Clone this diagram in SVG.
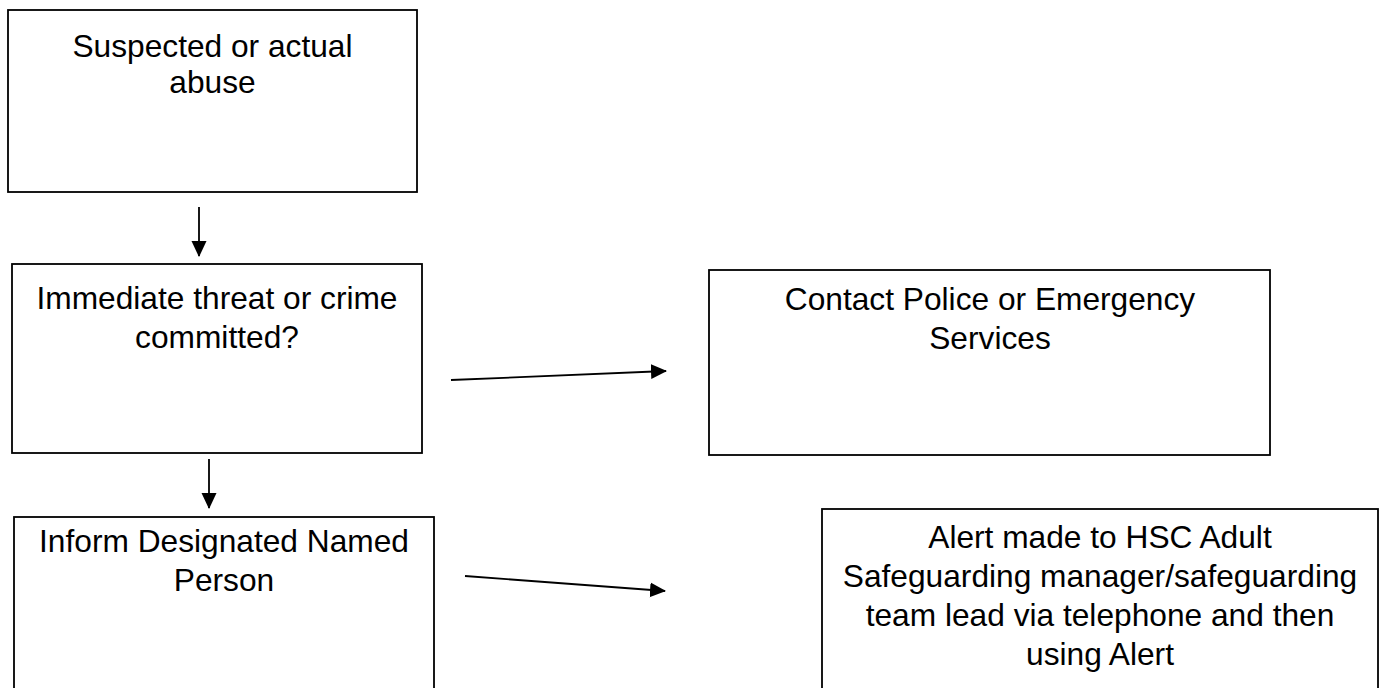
<svg xmlns="http://www.w3.org/2000/svg" width="1387" height="688" viewBox="0 0 1387 688">
<style>
.box{fill:#fff;stroke:#000;stroke-width:1.8}
.t{font-family:"Liberation Sans",Arial,sans-serif;font-size:31.7px;fill:#000;text-anchor:middle}
.c{stroke:#000;stroke-width:1.8;fill:none;marker-end:url(#ah)}
</style>
<defs>
<marker id="ah" markerUnits="userSpaceOnUse" markerWidth="16" markerHeight="16" viewBox="0 0 16 16" refX="15" refY="8" orient="auto">
<path d="M0,0.5 L16,8 L0,15.5 Z" fill="#000"/>
</marker>
</defs>
<rect width="1387" height="688" fill="#fff"/>
<g id="node-suspected">
<rect class="box" x="8" y="10" width="409" height="182"/>
<text class="t" x="212.5" y="57">Suspected or actual</text>
<text class="t" x="212.5" y="93">abuse</text>
</g>
<g id="node-immediate">
<rect class="box" x="12" y="264" width="410" height="189"/>
<text class="t" x="217" y="309">Immediate threat or crime</text>
<text class="t" x="217" y="348">committed?</text>
</g>
<g id="node-police">
<rect class="box" x="709" y="270" width="561" height="185"/>
<text class="t" x="990" y="310">Contact Police or Emergency</text>
<text class="t" x="990" y="349">Services</text>
</g>
<g id="node-inform">
<rect class="box" x="14" y="517" width="420" height="190"/>
<text class="t" x="224" y="552">Inform Designated Named</text>
<text class="t" x="224" y="591">Person</text>
</g>
<g id="node-alert">
<rect class="box" x="822" y="509" width="556" height="200"/>
<text class="t" x="1100" y="548">Alert made to HSC Adult</text>
<text class="t" x="1100" y="587">Safeguarding manager/safeguarding</text>
<text class="t" x="1100" y="626">team lead via telephone and then</text>
<text class="t" x="1100" y="665">using Alert</text>
</g>
<g id="connectors">
<line class="c" x1="199" y1="207" x2="199" y2="256"/>
<line class="c" x1="209" y1="459" x2="209" y2="508"/>
<line class="c" x1="451" y1="380" x2="666" y2="371"/>
<line class="c" x1="465" y1="576" x2="665" y2="591"/>
</g>
</svg>
